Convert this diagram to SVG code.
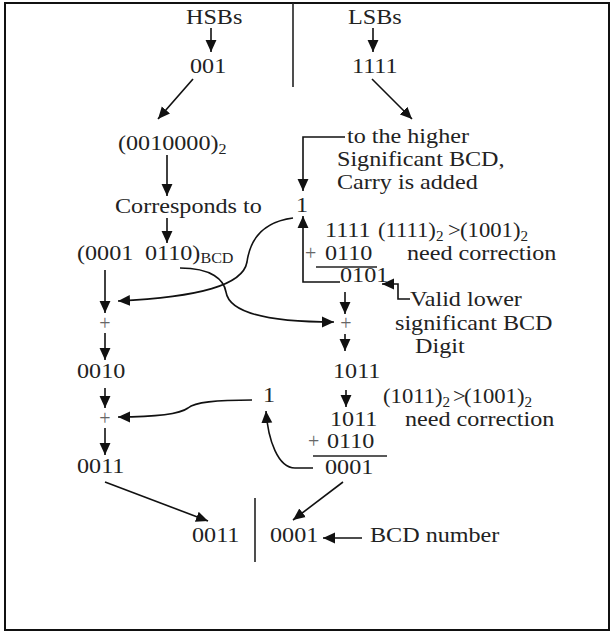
<svg xmlns="http://www.w3.org/2000/svg" width="612" height="632" viewBox="0 0 612 632">
<defs>
<style>
.t{font-family:"Liberation Serif","Times New Roman",serif;font-size:21px;fill:#222}
.s{font-size:14px}
.p{font-family:"Liberation Serif",serif;font-size:20px;fill:#666}
.c{fill:none;stroke:#111;stroke-width:1.6}
.ln{fill:none;stroke:#222;stroke-width:1.6}
</style>
<marker id="ah" markerUnits="userSpaceOnUse" markerWidth="12" markerHeight="12" refX="11" refY="5" orient="auto" viewBox="0 0 11 10">
<path d="M0,0 L11,5 L0,10 z" fill="#111"/>
</marker>
</defs>
<rect x="0" y="0" width="612" height="632" fill="#fff"/>
<rect x="5" y="3" width="604" height="627" fill="none" stroke="#111" stroke-width="2"/>
<line class="ln" x1="293" y1="3" x2="293" y2="87"/>
<line class="ln" x1="255" y1="498" x2="255" y2="562"/>

<g id="hsbs"><text class="t" transform="translate(186,24) scale(1.15,1)">HSBs</text></g>
<g id="lsbs"><text class="t" transform="translate(348,24) scale(1.15,1)">LSBs</text></g>
<g id="h001"><text class="t" transform="translate(190,73) scale(1.15,1)">001</text></g>
<g id="l1111"><text class="t" transform="translate(352,73) scale(1.15,1)">1111</text></g>
<g id="bin"><text class="t" transform="translate(118,150) scale(1.15,1)">(0010000)<tspan class="s" dy="4">2</tspan></text></g>
<g id="note1">
<text class="t" transform="translate(347,143) scale(1.15,1)">to the higher</text>
<text class="t" transform="translate(337,166) scale(1.15,1)">Significant BCD,</text>
<text class="t" transform="translate(337,189) scale(1.15,1)">Carry is added</text>
</g>
<g id="corr"><text class="t" transform="translate(115,213) scale(1.15,1)">Corresponds to</text></g>
<g id="carry1"><text class="t" transform="translate(296,212) scale(1.15,1)">1</text></g>
<g id="bcd">
<text class="t" transform="translate(77,260) scale(1.15,1)">(0001</text>
<text class="t" transform="translate(145,260) scale(1.15,1)">0110)<tspan class="s" dy="3">BCD</tspan></text>
</g>
<g id="sum1">
<text class="t" transform="translate(325,237) scale(1.15,1)">1111</text>
<text class="t" transform="translate(378,237) scale(1.08,1)">(1111)<tspan class="s" dy="4">2</tspan></text>
<text class="t" transform="translate(448,237) scale(1.08,1)">&gt;</text>
<text class="t" transform="translate(460,237) scale(1.08,1)">(1001)<tspan class="s" dy="4">2</tspan></text>
<text class="p" x="305" y="260">+</text>
<text class="t" transform="translate(325,260) scale(1.15,1)">0110</text>
<text class="t" transform="translate(407,260) scale(1.15,1)">need correction</text>
<line class="ln" x1="316" y1="267" x2="377" y2="267"/>
<text class="t" transform="translate(340,282) scale(1.15,1)">0101</text>
</g>
<g id="note2">
<text class="t" transform="translate(410,306) scale(1.15,1)">Valid lower</text>
<text class="t" transform="translate(395,330) scale(1.15,1)">significant BCD</text>
<text class="t" transform="translate(415,353) scale(1.15,1)">Digit</text>
</g>
<g id="plusR1"><text class="p" x="346" y="330" text-anchor="middle">+</text></g>
<g id="plusL1"><text class="p" x="105" y="330" text-anchor="middle">+</text></g>
<g id="l0010"><text class="t" transform="translate(77,378) scale(1.15,1)">0010</text></g>
<g id="r1011"><text class="t" transform="translate(333,378) scale(1.15,1)">1011</text></g>
<g id="cmp2">
<text class="t" transform="translate(383,403) scale(1.08,1)">(1011)<tspan class="s" dy="4">2</tspan></text>
<text class="t" transform="translate(453,403) scale(1.08,1)">&gt;</text>
<text class="t" transform="translate(464,403) scale(1.08,1)">(1001)<tspan class="s" dy="4">2</tspan></text>
<text class="t" transform="translate(405,426) scale(1.15,1)">need correction</text>
</g>
<g id="carry2"><text class="t" transform="translate(263,402) scale(1.15,1)">1</text></g>
<g id="plusL2"><text class="p" x="105" y="425" text-anchor="middle">+</text></g>
<g id="sum2">
<text class="t" transform="translate(330,426) scale(1.15,1)">1011</text>
<text class="p" x="308" y="448">+</text>
<text class="t" transform="translate(327,448) scale(1.15,1)">0110</text>
<line class="ln" x1="313" y1="456" x2="387" y2="456"/>
<text class="t" transform="translate(325,474) scale(1.15,1)">0001</text>
</g>
<g id="l0011"><text class="t" transform="translate(77,473) scale(1.15,1)">0011</text></g>
<g id="res">
<text class="t" transform="translate(192,542) scale(1.15,1)">0011</text>
<text class="t" transform="translate(270,542) scale(1.15,1)">0001</text>
</g>
<g id="bcdnum"><text class="t" transform="translate(370,542) scale(1.15,1)">BCD number</text></g>

<g id="connectors">
<path class="c" d="M211,28 V52" marker-end="url(#ah)"/>
<path class="c" d="M373,28 V52" marker-end="url(#ah)"/>
<path class="c" d="M193,79 L158,119" marker-end="url(#ah)"/>
<path class="c" d="M372,79 L412,119" marker-end="url(#ah)"/>
<path class="c" d="M167,155 V196" marker-end="url(#ah)"/>
<path class="c" d="M167,218 V243" marker-end="url(#ah)"/>
<path class="c" d="M345,137 H303 V191" marker-end="url(#ah)"/>
<path class="c" d="M340,282 H303 V216" marker-end="url(#ah)"/>
<path class="c" d="M410,299 H398 V284 H382" marker-end="url(#ah)"/>
<path class="c" d="M345,292 V314" marker-end="url(#ah)"/>
<path class="c" d="M345,334 V351" marker-end="url(#ah)"/>
<path class="c" d="M105,270 V313" marker-end="url(#ah)"/>
<path class="c" d="M105,333 V360" marker-end="url(#ah)"/>
<path class="c" d="M105,388 V408" marker-end="url(#ah)"/>
<path class="c" d="M105,428 V455" marker-end="url(#ah)"/>
<path class="c" d="M293,218 C262,222 250,240 247,262 C243,285 200,297 118,301" marker-end="url(#ah)"/>
<path class="c" d="M180,268 C212,268 224,280 226,292 C230,318 290,322 334,322" marker-end="url(#ah)"/>
<path class="c" d="M346,390 V407" marker-end="url(#ah)"/>
<path class="c" d="M313,468 H295 C278,468 268,440 266,411" marker-end="url(#ah)"/>
<path class="c" d="M252,400 C215,400 195,402 188,408 C180,414 160,417 118,417" marker-end="url(#ah)"/>
<path class="c" d="M105,482 L208,521" marker-end="url(#ah)"/>
<path class="c" d="M343,482 L293,520" marker-end="url(#ah)"/>
<path class="c" d="M362,538 H323" marker-end="url(#ah)"/>
</g>
</svg>
